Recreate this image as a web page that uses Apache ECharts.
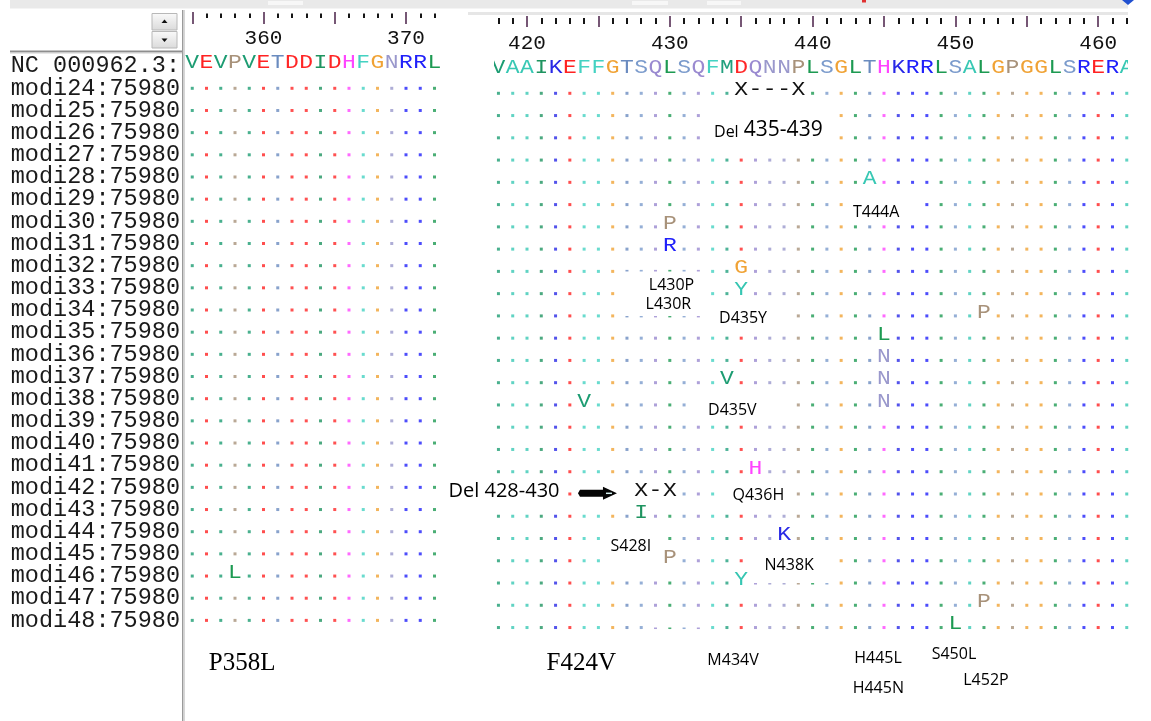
<!DOCTYPE html>
<html lang="en">
<head>
<meta charset="utf-8">
<title>rpoB alignment</title>
<script src="https://cdn.jsdelivr.net/npm/echarts@6.0.0/dist/echarts.min.js"></script>
<style>
  html, body { margin: 0; padding: 0; background: #fff; }
  #chart { width: 1151px; height: 721px; }
</style>
</head>
<body>
<div id="chart"></div>
<script>
// row -1 is the reference, rows 0..24 are the isolates
const rowNames = [
  'NC 000962.3:',
  'modi24:75980', 'modi25:75980', 'modi26:75980', 'modi27:75980', 'modi28:75980',
  'modi29:75980', 'modi30:75980', 'modi31:75980', 'modi32:75980', 'modi33:75980',
  'modi34:75980', 'modi35:75980', 'modi36:75980', 'modi37:75980', 'modi38:75980',
  'modi39:75980', 'modi40:75980', 'modi41:75980', 'modi42:75980', 'modi43:75980',
  'modi44:75980', 'modi45:75980', 'modi46:75980', 'modi47:75980', 'modi48:75980'
];

const leftStart = 355;
const leftSeq = 'VEVPVETDDIDHFGNRRL';
const rightStart = 418;
const rightSeq = 'VAAIKEFFGTSQLSQFMDQNNPLSGLTHKRRLSALGPGGLSRERA';

// [row, residue, amino acid]
const leftSubs = [[22, 358, 'L']];
const rightSubs = [
  [4, 444, 'A'], [6, 430, 'P'], [7, 430, 'R'], [8, 435, 'G'], [9, 435, 'Y'],
  [10, 452, 'P'], [11, 445, 'L'], [12, 445, 'N'], [13, 434, 'V'], [13, 445, 'N'],
  [14, 424, 'V'], [14, 445, 'N'], [17, 436, 'H'], [19, 428, 'I'], [20, 438, 'K'],
  [21, 430, 'P'], [22, 435, 'Y'], [23, 452, 'P'], [24, 450, 'L']
];
// [row, first residue, last residue]
const rightDels = [[0, 435, 439], [18, 428, 430]];

// ruler
const leftMajor = [355, 360, 365, 370];
const leftTickLabels = [360, 370];
const rightMajor = [420, 425, 430, 435, 440, 445, 450, 455, 460];
const rightTickLabels = [420, 430, 440, 450, 460];

// pasted notes: [text, residue, row, kind]
const rightNotes = [
  ['{s|Del} {b|435-439}', 436.9, 1.65, 'rich'],
  ['T444A', 444.45, 5.36, 'mut'],
  ['L430P', 430.12, 8.61, 'mut'],
  ['L430R', 429.9, 9.47, 'mut'],
  ['D435Y', 435.13, 10.11, 'mut'],
  ['D435V', 434.38, 14.23, 'mut'],
  ['Del 428-430', 418.39, 17.9, 'del'],
  ['Q436H', 436.2, 18.08, 'mut'],
  ['S428I', 427.27, 20.34, 'mut'],
  ['N438K', 438.36, 21.19, 'mut'],
  ['F424V', 423.8, 25.6, 'serif'],
  ['M434V', 434.43, 25.46, 'mut'],
  ['H445L', 444.58, 25.38, 'mut'],
  ['H445N', 444.6, 26.73, 'mut'],
  ['S450L', 449.9, 25.23, 'mut'],
  ['L452P', 452.14, 26.36, 'mut']
];
const leftNotes = [['P358L', 358.5, 25.92, 'serif']];
// white patches under the notes: [resFrom, resTo, rowFrom, rowTo]
const rightCovers = [
  [432.5, 441.5, 0.55, 2.5],
  [442.5, 447.5, 4.6, 5.85],
  [426.5, 432.5, 8.0, 10.0],
  [432.5, 438.5, 9.6, 10.6],
  [431.6, 438.5, 13.55, 14.7],
  [414.2, 422.5, 17.5, 18.5],
  [423.5, 427.5, 17.55, 18.45],
  [433.5, 438.5, 17.55, 18.6],
  [425.5, 429.5, 19.5, 21.5],
  [435.5, 441.5, 20.55, 22.0],
  [428.5, 432.5, 23.6, 24.0]
];
// arrow: [resFrom, resTo, row]
const rightArrows = [[423.57, 426.3, 17.97]];

const aaColor = {
  A: '#38c8b4', V: '#1c9c72', I: '#1f9460', L: '#1d9a52', M: '#22a07e',
  F: '#44d2c2', Y: '#36c6b2', K: '#2828e6', R: '#2020fa', H: '#ff44ff',
  D: '#ff2626', E: '#ff2222', S: '#7b9bcc', T: '#6a8bbf', N: '#9a98cc',
  Q: '#9a8ad0', G: '#f0a234', P: '#a8927a'
};

const noteStyle = {
  mut: { fontFamily: 'Open Sans', fontSize: 16 },
  del: { fontFamily: 'Open Sans', fontSize: 20 },
  rich: { fontFamily: 'Open Sans', fontSize: 20 },
  serif: { fontFamily: 'Liberation Serif', fontSize: 25 }
};

// visible residue window of each panel
const leftMin = 354.491, leftMax = 372.807;
const rightMin = 417.689, rightMax = 462.087;

function buildRows(start, seq, subs, dels) {
  const dots = [], glyphs = [], taken = {};
  for (let i = 0; i < seq.length; i++) glyphs.push([start + i, -1, seq[i]]);
  subs.forEach(s => { glyphs.push([s[1], s[0], s[2]]); taken[s[0] + ':' + s[1]] = 1; });
  dels.forEach(d => {
    for (let r = d[1]; r <= d[2]; r++) {
      glyphs.push([r, d[0], (r === d[1] || r === d[2]) ? 'X' : '-']);
      taken[d[0] + ':' + r] = 1;
    }
  });
  for (let row = 0; row < rowNames.length - 1; row++) {
    for (let i = 0; i < seq.length; i++) {
      if (taken[row + ':' + (start + i)]) continue;
      dots.push({ value: [start + i, row], itemStyle: { color: aaColor[seq[i]] } });
    }
  }
  return { dots, glyphs };
}

const left = buildRows(leftStart, leftSeq, leftSubs, []);
const right = buildRows(rightStart, rightSeq, rightSubs, rightDels);

function minorOf(start, seq) {
  const out = [];
  for (let i = 0; i < seq.length; i++) if ((start + i) % 5 !== 0) out.push(start + i);
  return out;
}

function rulerAxis(grid, min, max, major, labels, len, margin) {
  return {
    gridIndex: grid, type: 'value', position: 'top', min: min, max: max,
    axisLine: { show: false, onZero: false }, splitLine: { show: false },
    axisTick: { show: true, inside: true, length: len, customValues: major,
      lineStyle: { color: '#4a2048', width: 1.5 } },
    axisLabel: { show: true, inside: true, margin: margin, customValues: labels,
      fontFamily: 'Liberation Mono', fontSize: 21, color: '#111' }
  };
}
function minorAxis(grid, min, max, values, len, offset) {
  return {
    gridIndex: grid, type: 'value', position: 'top', min: min, max: max, offset: offset,
    axisLine: { show: false, onZero: false }, splitLine: { show: false }, axisLabel: { show: false },
    axisTick: { show: true, inside: true, length: len, customValues: values,
      lineStyle: { color: '#151515', width: 2 } }
  };
}

function glyphSeries(data, xi, yi) {
  return {
    type: 'custom', xAxisIndex: xi, yAxisIndex: yi, clip: true, silent: true, z: 3,
    data: data.map(d => [d[0], d[1]]),
    renderItem: (params, api) => {
      const d = data[params.dataIndex];
      const p = api.coord([d[0], d[1]]);
      return {
        type: 'text', x: p[0], y: p[1] - 3.5, scaleX: 1.15,
        style: { text: d[2], fill: aaColor[d[2]] || '#111', fontFamily: 'Liberation Mono',
          fontSize: 20, align: 'center', verticalAlign: 'middle' }
      };
    }
  };
}

// sequence names, right-aligned against the left edge of the first panel
const nameSeries = {
  type: 'custom', xAxisIndex: 0, yAxisIndex: 0, clip: false, silent: true, z: 3,
  data: rowNames.map((n, i) => [leftMin, i - 1]),
  renderItem: (params, api) => {
    const p = api.coord([leftMin, params.dataIndex - 1]);
    return {
      type: 'text', x: p[0] - 5, y: p[1],
      style: { text: rowNames[params.dataIndex], fill: '#1a1a1a', fontFamily: 'Liberation Mono',
        fontSize: 23.5, align: 'right', verticalAlign: 'middle' }
    };
  }
};

function noteSeries(notes, xi, yi) {
  return {
    type: 'custom', xAxisIndex: xi, yAxisIndex: yi, clip: false, silent: true, z: 6,
    data: notes.map(n => [n[1], n[2]]),
    renderItem: (params, api) => {
      const n = notes[params.dataIndex];
      const p = api.coord([n[1], n[2]]);
      const st = noteStyle[n[3]];
      const style = { text: n[0], fill: '#000', fontFamily: st.fontFamily, fontSize: st.fontSize,
        align: 'center', verticalAlign: 'middle' };
      if (n[3] === 'rich') {
        style.rich = {
          s: { fontFamily: 'Open Sans', fontSize: 16, fill: '#000', verticalAlign: 'bottom' },
          b: { fontFamily: 'Open Sans', fontSize: 21, fill: '#000', verticalAlign: 'bottom' }
        };
      }
      return { type: 'text', x: p[0], y: p[1], style: style };
    }
  };
}

const coverSeries = {
  type: 'custom', xAxisIndex: 2, yAxisIndex: 1, clip: false, silent: true, z: 5,
  data: rightCovers.map(c => [c[0], c[2]]),
  renderItem: (params, api) => {
    const c = rightCovers[params.dataIndex];
    const a = api.coord([c[0], c[2]]), b = api.coord([c[1], c[3]]);
    return { type: 'rect', shape: { x: a[0], y: a[1], width: b[0] - a[0], height: b[1] - a[1] },
      style: { fill: '#fff' } };
  }
};

const arrowSeries = {
  type: 'custom', xAxisIndex: 2, yAxisIndex: 1, clip: false, silent: true, z: 6,
  data: rightArrows.map(a => [a[0], a[2]]),
  renderItem: (params, api) => {
    const d = rightArrows[params.dataIndex];
    const a = api.coord([d[0], d[2]]), b = api.coord([d[1], d[2]]);
    const x0 = a[0], x1 = b[0], y = a[1], hl = 14;
    return {
      type: 'group',
      children: [
        { type: 'polygon', shape: { points: [[x0 + 2, y - 3.5], [x1 - hl, y - 3.5], [x1 - hl, y - 6.5],
          [x1, y], [x1 - hl, y + 6.5], [x1 - hl, y + 3.5], [x0 + 2, y + 3.5], [x0, y]] },
          style: { fill: '#050505' } },
        { type: 'line', shape: { x1: x1 - hl + 3, y1: y, x2: x1 - 5, y2: y },
          style: { stroke: '#d8f4f4', lineWidth: 1.5 } }
      ]
    };
  }
};

const option = {
  animation: false,
  backgroundColor: '#fff',
  grid: [
    { left: 185, top: 12, width: 261, height: 700, containLabel: false, outerBoundsMode: 'none' },
    { left: 494, top: 16, width: 634, height: 700, containLabel: false, outerBoundsMode: 'none' }
  ],
  xAxis: [
    rulerAxis(0, leftMin, leftMax, leftMajor, leftTickLabels, 12, 16),
    minorAxis(0, leftMin, leftMax, minorOf(leftStart, leftSeq), 4.5, -1.5),
    rulerAxis(1, rightMin, rightMax, rightMajor, rightTickLabels, 11, 17),
    minorAxis(1, rightMin, rightMax, minorOf(rightStart, rightSeq), 6, -2)
  ],
  yAxis: [
    {
      gridIndex: 0, type: 'value', inverse: true, min: -3.4416, max: 28.1325, show: false,
      axisLine: { onZero: false }, splitLine: { show: false }
    },
    {
      gridIndex: 1, type: 'value', inverse: true, min: -3.4726, max: 27.974, show: false,
      axisLine: { onZero: false }, splitLine: { show: false }
    }
  ],
  series: [
    { type: 'scatter', xAxisIndex: 0, yAxisIndex: 0, symbol: 'rect', symbolSize: 3,
      silent: true, z: 2, data: left.dots },
    { type: 'scatter', xAxisIndex: 2, yAxisIndex: 1, symbol: 'rect', symbolSize: 3,
      silent: true, z: 2, data: right.dots },
    nameSeries,
    glyphSeries(left.glyphs, 0, 0),
    glyphSeries(right.glyphs, 2, 1),
    coverSeries,
    arrowSeries,
    noteSeries(rightNotes, 2, 1),
    noteSeries(leftNotes, 0, 0)
  ],
  graphic: [
    // window chrome of the alignment viewer
    { type: 'rect', silent: true, z: 10, shape: { x: 10, y: 0, width: 1118, height: 8.5 }, style: { fill: '#e9e9e9' } },
    { type: 'rect', silent: true, z: 10, shape: { x: 268, y: 1, width: 35, height: 4 }, style: { fill: '#f7f7f7' } },
    { type: 'rect', silent: true, z: 10, shape: { x: 632, y: 1, width: 36, height: 4 }, style: { fill: '#f7f7f7' } },
    { type: 'rect', silent: true, z: 10, shape: { x: 707, y: 1, width: 34, height: 4 }, style: { fill: '#f7f7f7' } },
    { type: 'rect', silent: true, z: 10, shape: { x: 862, y: 0, width: 4, height: 2.5 }, style: { fill: '#e03030' } },
    { type: 'polygon', silent: true, z: 10, shape: { points: [[1122, 0], [1134, 0], [1128, 5]] }, style: { fill: '#2050d0' } },
    { type: 'rect', silent: true, z: 10, shape: { x: 468, y: 12, width: 660, height: 3 }, style: { fill: '#e6e6e6' } },
    { type: 'rect', silent: true, z: 10, shape: { x: 182, y: 10, width: 1.5, height: 711 }, style: { fill: '#9a9a9a' } },
    { type: 'rect', silent: true, z: 10, shape: { x: 183.5, y: 10, width: 1.5, height: 711 }, style: { fill: '#d6d6d6' } },
    { type: 'rect', silent: true, z: 10, shape: { x: 10, y: 50.5, width: 172, height: 2 }, style: { fill: '#8e8e8e' } },
    { type: 'rect', silent: true, z: 10, shape: { x: 10, y: 52.5, width: 172, height: 1 }, style: { fill: '#d0d0d0' } },
    { type: 'rect', silent: true, z: 10, shape: { x: 152, y: 13.5, width: 25, height: 16.5 },
      style: { fill: { type: 'linear', x: 0, y: 0, x2: 0, y2: 1, colorStops: [{ offset: 0, color: '#fafafa' }, { offset: 1, color: '#dadada' }] },
        stroke: '#b8b8b8', lineWidth: 1 } },
    { type: 'rect', silent: true, z: 10, shape: { x: 152, y: 31.5, width: 25, height: 16.5 },
      style: { fill: { type: 'linear', x: 0, y: 0, x2: 0, y2: 1, colorStops: [{ offset: 0, color: '#fafafa' }, { offset: 1, color: '#dadada' }] },
        stroke: '#b8b8b8', lineWidth: 1 } },
    { type: 'polygon', silent: true, z: 11, shape: { points: [[161.5, 23], [164.5, 19.5], [167.5, 23]] }, style: { fill: '#111' } },
    { type: 'polygon', silent: true, z: 11, shape: { points: [[161.5, 38.5], [167.5, 38.5], [164.5, 42]] }, style: { fill: '#111' } }
  ]
};

const chart = echarts.init(document.getElementById('chart'));
chart.setOption(option);
</script>
</body>
</html>
